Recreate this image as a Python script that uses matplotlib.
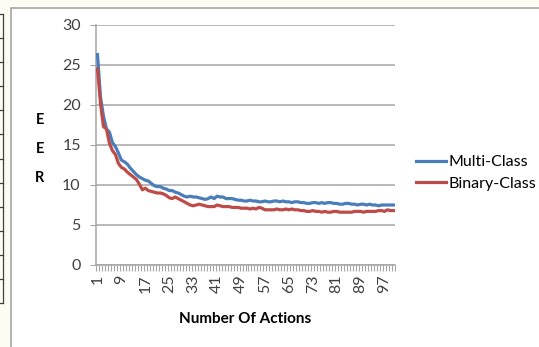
import numpy as np
import matplotlib
matplotlib.use("Agg")
import matplotlib.pyplot as plt
from matplotlib.patches import Rectangle
from matplotlib.lines import Line2D

plt.rcParams['font.family'] = ['Lato', 'DejaVu Sans']

# EER per number of actions
actions = list(range(1, 101))
multi_class = [
    26.3, 21.0, 18.6, 17.0, 16.6, 15.3, 14.8, 14.0, 13.1, 12.9,
    12.6, 12.1, 11.7, 11.3, 11.0, 10.8, 10.6, 10.5, 10.2, 9.9,
    9.8, 9.8, 9.6, 9.5, 9.3, 9.3, 9.1, 9.0, 8.8, 8.6,
    8.5, 8.6, 8.5, 8.5, 8.4, 8.3, 8.2, 8.3, 8.5, 8.3,
    8.6, 8.5, 8.5, 8.3, 8.3, 8.3, 8.2, 8.1, 8.1, 8.0,
    8.0, 8.1, 8.0, 8.0, 7.9, 7.9, 8.0, 7.9, 7.9, 8.0,
    8.0, 7.9, 8.0, 7.9, 7.9, 7.8, 7.9, 7.9, 7.8, 7.8,
    7.7, 7.7, 7.8, 7.8, 7.7, 7.8, 7.7, 7.8, 7.8, 7.7,
    7.7, 7.6, 7.6, 7.7, 7.7, 7.6, 7.6, 7.5, 7.6, 7.6,
    7.5, 7.6, 7.5, 7.5, 7.4, 7.5, 7.5, 7.5, 7.5, 7.5,
]
binary_class = [
    24.5, 20.2, 17.3, 17.0, 15.2, 14.3, 13.8, 12.7, 12.2, 12.0,
    11.6, 11.3, 11.0, 10.7, 10.1, 9.4, 9.6, 9.3, 9.2, 9.1,
    9.0, 9.0, 8.9, 8.7, 8.4, 8.3, 8.5, 8.3, 8.1, 7.9,
    7.7, 7.5, 7.4, 7.5, 7.6, 7.5, 7.4, 7.3, 7.3, 7.3,
    7.5, 7.4, 7.3, 7.3, 7.3, 7.2, 7.2, 7.2, 7.1, 7.1,
    7.1, 7.0, 7.1, 7.0, 7.2, 7.1, 6.9, 6.9, 6.9, 6.9,
    7.0, 6.9, 6.9, 7.0, 6.9, 7.0, 6.9, 6.9, 6.8, 6.8,
    6.7, 6.7, 6.8, 6.7, 6.7, 6.6, 6.7, 6.6, 6.6, 6.7,
    6.7, 6.6, 6.6, 6.6, 6.6, 6.6, 6.7, 6.7, 6.7, 6.6,
    6.7, 6.7, 6.7, 6.7, 6.8, 6.8, 6.7, 6.9, 6.8, 6.8,
]
tick_labels = [str(a) for a in actions[::8]]
y_ticks = [0, 5, 10, 15, 20, 25, 30]

W, H = 539, 347
fig = plt.figure(figsize=(W / 100, H / 100), dpi=100)
fig.patch.set_facecolor('#fdfcf3')

# chart frame, behind everything
fig.patches.append(Rectangle((10.5 / W, -0.1), 1.0, 1.1 - 7.5 / H,
                             transform=fig.transFigure, facecolor='white',
                             edgecolor='#a6a6a6', linewidth=1.2, zorder=-5))
# table edge on the far left
fig.lines.append(Line2D([2.5 / W, 2.5 / W], [1 - 14 / H, 1 - 303 / H],
                        transform=fig.transFigure, color='#404040', lw=0.9))
for yy in np.linspace(14, 303, 13):
    fig.lines.append(Line2D([0, 2.5 / W], [1 - yy / H, 1 - yy / H],
                            transform=fig.transFigure, color='#404040', lw=0.9))

ax = fig.add_axes([96 / W, 1 - 265 / H, 299 / W, 240 / H])
ax.set_facecolor('none')
ax.set_zorder(2)

ax.plot(actions, multi_class, color='#4a7ebb', lw=2.3, label='Multi-Class', zorder=3)
ax.plot(actions, binary_class, color='#be4b48', lw=2.3, label='Binary-Class', zorder=3)

ax.set_xlim(0.5, 100.5)
ax.set_ylim(0, 30)
ax.set_yticks(y_ticks)
ax.set_xticks(actions[::8])
ax.set_xticklabels(tick_labels, rotation=90)
ax.set_xticks(np.arange(0.5, 101, 1), minor=True)

ax.grid(axis='y', color='#a6a6a6', lw=1.1)
ax.set_axisbelow(True)
for s in ['top', 'right']:
    ax.spines[s].set_visible(False)
for s in ['left', 'bottom']:
    ax.spines[s].set_color('#a6a6a6')
    ax.spines[s].set_linewidth(1.1)

ax.tick_params(axis='y', length=4, color='#a6a6a6', labelsize=11.5,
               labelcolor='#404040', pad=7)
ax.tick_params(axis='x', which='major', length=0, labelsize=11.5,
               labelcolor='#404040', pad=7)
ax.tick_params(axis='x', which='minor', length=4, color='#a6a6a6', width=0.8)

ax.set_xlabel('Number Of Actions', fontsize=11, fontweight='bold', labelpad=13)
fig.text(40 / W, 1 - 149 / H, 'E\n\nE\n\nR', ha='center', va='center',
         fontsize=10.5, fontweight='bold', linespacing=1.05)

ax.legend(loc='center left', bbox_to_anchor=((416 - 96) / 299, 0.383),
          frameon=False, fontsize=11.5, handlelength=1.9, handletextpad=0.15,
          labelspacing=0.45, borderaxespad=0, borderpad=0)

fig.savefig('out.png', dpi=100, facecolor=fig.get_facecolor())
